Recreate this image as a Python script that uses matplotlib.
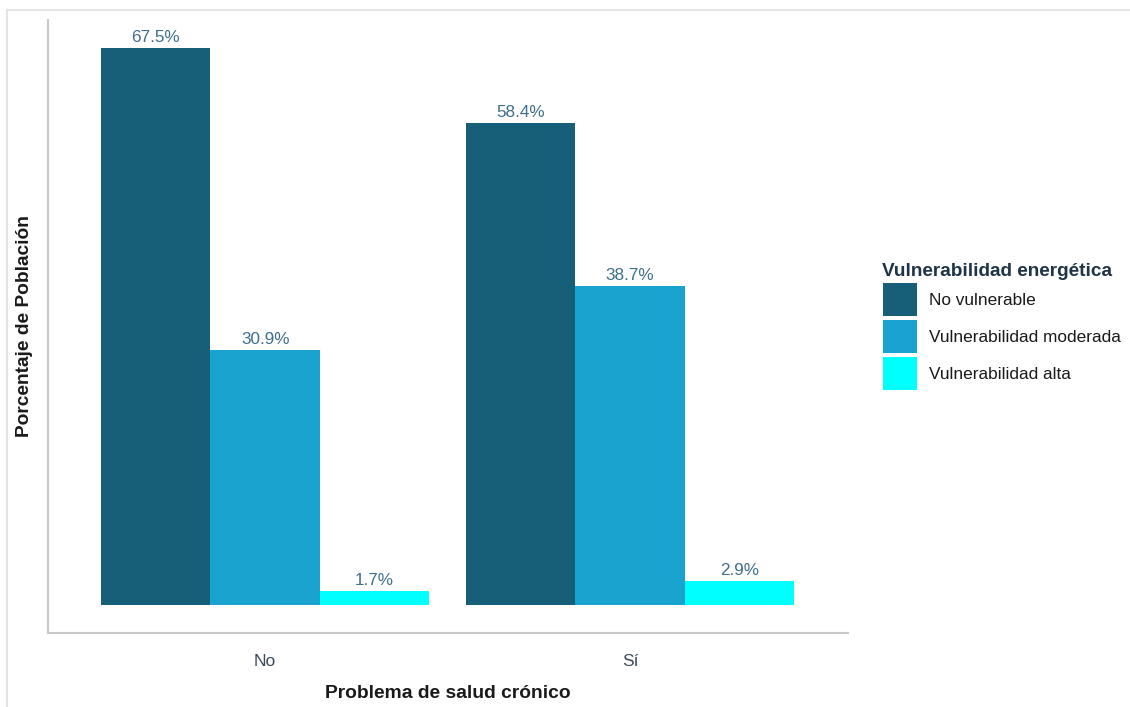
import matplotlib
matplotlib.use("Agg")
import matplotlib.pyplot as plt
from matplotlib.patches import Rectangle, Patch
import numpy as np

plt.rcParams['font.family'] = ['Liberation Sans', 'DejaVu Sans']

groups = ["No", "Sí"]
series = ["No vulnerable", "Vulnerabilidad moderada", "Vulnerabilidad alta"]
no_vulnerable = [67.5, 58.4]
moderada = [30.9, 38.7]
alta = [1.7, 2.9]
colors = ["#175f79", "#1ba3cf", "#00ffff"]

values = [no_vulnerable, moderada, alta]

fig = plt.figure(figsize=(11.3, 7.07), dpi=100)
# light frame around the whole figure
fig.patches.append(Rectangle((7 / 1130, -0.01), 1.2, 1 - 10 / 707 + 0.01,
                             transform=fig.transFigure, fill=False,
                             edgecolor="#e4e4e4", linewidth=1.5))

ax = fig.add_axes([48 / 1130, 1 - 633 / 707, 800 / 1130, 613 / 707])

x = np.arange(len(groups))
width = 0.3
label_color = "#3d6e8c"
for i, (vals, col) in enumerate(zip(values, colors)):
    pos = x + (i - 1) * width
    bars = ax.bar(pos, vals, width=width, color=col, label=series[i])
    for b, v in zip(bars, vals):
        ax.text(b.get_x() + b.get_width() / 2, v + 0.35, f"{v:.1f}%",
                ha="center", va="bottom", fontsize=12.3, color=label_color)

ax.set_xlim(-0.595, 1.597)
ax.set_ylim(-3.375, 70.875)
ax.set_xticks(x)
ax.set_xticklabels(groups, fontsize=12.5, color="#3b4a5a")
ax.tick_params(axis="x", length=0, pad=15)
ax.set_yticks([])
for s in ["top", "right"]:
    ax.spines[s].set_visible(False)
for s in ["left", "bottom"]:
    ax.spines[s].set_color("#c8c8c8")
    ax.spines[s].set_linewidth(1.5)

ax.set_xlabel("Problema de salud crónico", fontsize=13.9, fontweight="bold",
              color="#1a1a1a", labelpad=12)
ax.set_ylabel("Porcentaje de Población", fontsize=13.8, fontweight="bold",
              color="#1a1a1a", labelpad=11)

handles = [Patch(facecolor=c, edgecolor="none") for c in colors]
leg = fig.legend(handles, series, loc="upper left",
                 bbox_to_anchor=(867 / 1130, 1 - 247 / 707),
                 title="Vulnerabilidad energética", frameon=False,
                 fontsize=12.4, handlelength=2.03, handleheight=2.62,
                 handletextpad=0.65, labelspacing=0.2, alignment="left",
                 title_fontproperties={"weight": "bold", "size": 13.7})
leg.get_title().set_color("#1f3447")
for t in leg.get_texts():
    t.set_color("#1a1a1a")

fig.savefig("out.png", dpi=100)
